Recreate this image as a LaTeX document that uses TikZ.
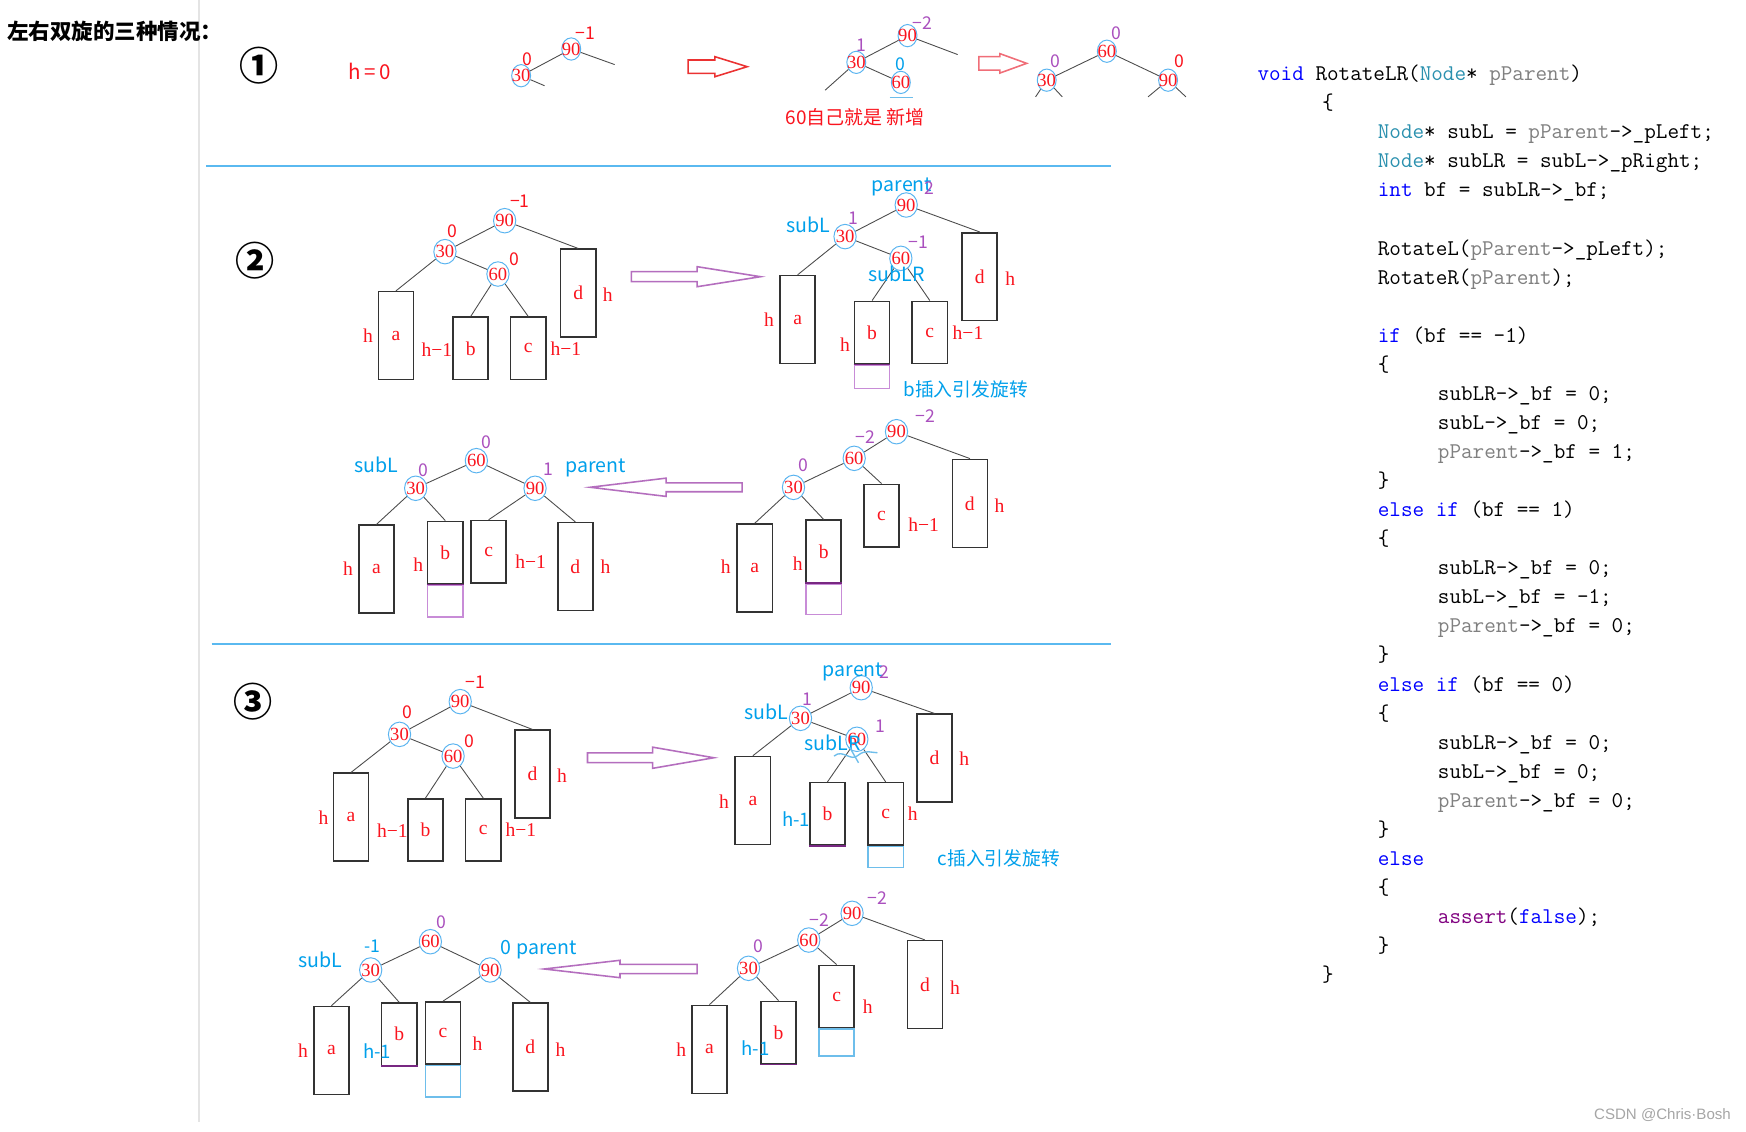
\documentclass[tikz,border=0pt]{standalone}
\usepackage{fontspec}
\setmainfont{Liberation Serif}
\newfontfamily\cjk{Noto Sans CJK SC}
\newfontfamily\wmfont{Liberation Sans}
\usetikzlibrary{shapes.geometric}
\definecolor{valred}{RGB}{250,20,30}
\definecolor{ringblue}{RGB}{90,180,240}
\definecolor{bfpurple}{RGB}{170,80,190}
\definecolor{labcyan}{RGB}{0,160,235}
\definecolor{arrpurple}{RGB}{180,110,190}
\definecolor{arrred}{RGB}{235,50,50}
\definecolor{arrpink}{RGB}{240,110,120}
\definecolor{seplight}{RGB}{90,185,240}
\definecolor{vgray}{RGB}{228,228,228}
\definecolor{inspurple}{RGB}{200,140,215}
\definecolor{insdark}{RGB}{120,40,130}
\definecolor{inscyan}{RGB}{110,190,235}
\definecolor{kwblue}{RGB}{0,0,255}
\definecolor{tyteal}{RGB}{43,145,175}
\definecolor{pagray}{RGB}{128,128,128}
\definecolor{aspurple}{RGB}{128,0,128}
\newcommand{\ckw}[1]{\textcolor{kwblue}{#1}}
\newcommand{\cty}[1]{\textcolor{tyteal}{#1}}
\newcommand{\cpa}[1]{\textcolor{pagray}{#1}}
\newcommand{\cas}[1]{\textcolor{aspurple}{#1}}

\begin{document}
\begin{tikzpicture}[x=0.02cm, y=-0.02cm,
    val/.style={ellipse, draw=ringblue, line width=0.5pt, inner sep=-4pt, minimum width=0.40cm, minimum height=0.44cm, text=valred, font=\fontsize{9.5}{9.5}\selectfont},
    valone/.style={val, minimum width=0.34cm, minimum height=0.40cm},
    edge/.style={draw=black!70, line width=0.45pt},
    tallbox/.style={rectangle, draw=black!80, line width=0.8pt, inner sep=0pt, minimum width=0.632cm, minimum height=1.58cm, text=valred, font=\fontsize{10}{10}\selectfont},
    shortbox/.style={tallbox, minimum height=1.12cm},
    newbox/.style={rectangle, line width=0.75pt, inner sep=0pt, minimum width=0.632cm, anchor=north},
    ht/.style={text=valred, inner sep=0pt, font=\fontsize{10}{10}\selectfont},
    htb/.style={text=labcyan, inner sep=0pt, font=\cjk\fontsize{9.5}{9.5}\selectfont},
    bfr/.style={text=valred, inner sep=0pt, font=\cjk\fontsize{9}{9}\selectfont},
    bfp/.style={bfr, text=bfpurple},
    bfc/.style={bfr, text=labcyan},
    tag/.style={text=labcyan, inner sep=0pt, font=\cjk\fontsize{10}{10}\selectfont},
    num/.style={inner sep=0pt, font=\cjk\bfseries\fontsize{20}{20}\selectfont},
    code/.style={anchor=base west, inner sep=0pt, font=\ttfamily\fontsize{11.5}{13}\selectfont},
    blockarr/.style={line width=0.8pt, fill=white},
    sep/.style={draw=seplight, line width=1pt}
  ]
  % page
  \fill[white] (0,0) rectangle (1568,1016);
  \useasboundingbox (0,0) rectangle (1568,1016);
  \draw[vgray, line width=1.1pt] (178.5,0) -- (178.5,1008);
  \node[anchor=west, inner sep=0pt, font=\cjk\bfseries\fontsize{11}{11}\selectfont] (title) at (6,28) {左右双旋的三种情况：};

  % ---------- case 1 ----------
  \node[num] (no1) at (233,59) {①};
  \node[text=valred, inner sep=0pt, font=\cjk\fontsize{10.5}{10.5}\selectfont] (hzero) at (332,64) {h\,=\,0};
  % before
  \node[valone] (p1a-90) at (513,44) {90};
  \node[valone] (p1a-30) at (468,68) {30};
  \node[bfr] (p1a-f90) at (526,30) {−1};
  \node[bfr] (p1a-f30) at (474,53) {0};
  \coordinate (p1a-r) at (552,58);
  \coordinate (p1a-l) at (489,77);
  \draw[edge] (p1a-90) -- (p1a-30) (p1a-90) -- (p1a-r) (p1a-30) -- (p1a-l);
  \draw[blockarr, draw=arrred] (618,53.9) -- (642,53.9) -- (642,50.9) -- (671,59.9) -- (642,68.9) -- (642,65.9) -- (618,65.9) -- cycle;
  % inserted
  \node[valone] (p1b-90) at (815,32) {90};
  \node[valone] (p1b-30) at (769,56) {30};
  \node[valone] (p1b-60) at (809,74) {60};
  \node[bfp] (p1b-f90) at (828,21) {−2};
  \node[bfp] (p1b-f30) at (774,41) {1};
  \node[bfc] (p1b-f60) at (809,58) {0};
  \coordinate (p1b-r) at (860,49);
  \coordinate (p1b-l) at (741,81);
  \draw[edge] (p1b-90) -- (p1b-30) (p1b-90) -- (p1b-r) (p1b-30) -- (p1b-l) (p1b-30) -- (p1b-60);
  \draw[inscyan, line width=0.8pt] (799,87.5) -- (820,87.5);
  \node[text=valred, inner sep=0pt, font=\cjk\fontsize{9.7}{9.7}\selectfont] (p1b-note) at (768,105) {60自己就是 新增};
  \draw[blockarr, draw=arrpink] (879,50.9) -- (898,50.9) -- (898,48.2) -- (922,56.9) -- (898,65.6) -- (898,62.9) -- (879,62.9) -- cycle;
  % after
  \node[valone] (p1c-60) at (994,46) {60};
  \node[valone] (p1c-30) at (940,72) {30};
  \node[valone] (p1c-90) at (1049,72) {90};
  \node[bfp] (p1c-f60) at (1003,30) {0};
  \node[bfp] (p1c-f30) at (948,55) {0};
  \node[bfr] (p1c-f90) at (1059,55) {0};
  \coordinate (p1c-l1) at (930,87);
  \coordinate (p1c-l2) at (954,87);
  \coordinate (p1c-l3) at (1031,87);
  \coordinate (p1c-l4) at (1065,87);
  \draw[edge] (p1c-60) -- (p1c-30) (p1c-60) -- (p1c-90) (p1c-30) -- (p1c-l1) (p1c-30) -- (p1c-l2) (p1c-90) -- (p1c-l3) (p1c-90) -- (p1c-l4);
  \draw[sep] (185,149) -- (998,149);

  % ---------- case 2 ----------
  \node[num] (no2) at (229,234) {②};
  % before
  \node[val] (p2a-90) at (453.2,198.2) {90};
  \node[val] (p2a-30) at (399.6,226) {30};
  \node[val] (p2a-60) at (447.2,246.1) {60};
  \node[tallbox] (p2a-a) at (355.6,301.4) {a};
  \node[shortbox] (p2a-b) at (422.7,312.9) {b};
  \node[shortbox] (p2a-c) at (474.4,312.9) {c};
  \node[tallbox] (p2a-d) at (519.2,263.3) {d};
  \node[bfr] (p2a-f90) at (466.8,181.1) {−1};
  \node[bfr] (p2a-f30) at (405.9,208) {0};
  \node[bfr] (p2a-f60) at (462,232.9) {0};
  \node[ht] (p2a-ha) at (330.5,301.5) {h};
  \node[ht] (p2a-hb) at (392.4,314.3) {h−1};
  \node[ht] (p2a-hc) at (508.2,313.4) {h−1};
  \node[ht] (p2a-hd) at (545.7,265) {h};
  \draw[edge] (p2a-90) -- (p2a-30) (p2a-90) -- (p2a-d.north) (p2a-30) -- (p2a-a.north)
    (p2a-30) -- (p2a-60) (p2a-60) -- (p2a-b.north) (p2a-60) -- (p2a-c.north);
  \draw[blockarr, draw=arrpurple] (567,244) -- (626,244) -- (626,239.5) -- (683,248.5) -- (626,257.5) -- (626,253) -- (567,253) -- cycle;
  % b inserted
  \node[val] (p2b-90) at (813.8,184.1) {90};
  \node[val] (p2b-30) at (758.9,212.5) {30};
  \node[val] (p2b-60) at (809,232) {60};
  \node[tallbox] (p2b-a) at (716.3,287) {a};
  \node[shortbox] (p2b-b) at (783.2,298.6) {b};
  \node[shortbox] (p2b-c) at (835,298.6) {c};
  \node[tallbox] (p2b-d) at (879.8,248.5) {d};
  \node[newbox, draw=inspurple, minimum height=0.42cm] (p2b-new) at (p2b-b.south) {};
  \draw[insdark, line width=0.9pt] (p2b-b.south west) -- (p2b-b.south east);
  \draw[edge] (p2b-90) -- (p2b-30) (p2b-90) -- (p2b-d.north) (p2b-30) -- (p2b-a.north)
    (p2b-30) -- (p2b-60) (p2b-60) -- (p2b-b.north) (p2b-60) -- (p2b-c.north);
  \node[tag] (p2b-par) at (810,167.6) {parent};
  \node[bfp] (p2b-f90) at (834.3,169.1) {2};
  \node[tag] (p2b-sl) at (725.7,202) {subL};
  \node[bfp] (p2b-f30) at (766.2,196.1) {1};
  \node[bfp] (p2b-f60) at (824.6,217.9) {−1};
  \node[tag] (p2b-slr) at (805.1,245.5) {subLR};
  \node[ht] (p2b-ha) at (690.7,286.8) {h};
  \node[ht] (p2b-hb) at (758.9,309.8) {h};
  \node[ht] (p2b-hc) at (869.3,298.5) {h−1};
  \node[ht] (p2b-hd) at (907.3,250) {h};
  \node[tag, font=\cjk\fontsize{9.6}{9.6}\selectfont] (p2b-note) at (867.2,349.6) {b插入引发旋转};
  % after left rotation
  \node[val] (p2c-90) at (805.1,387.7) {90};
  \node[val] (p2c-60) at (767.1,411.6) {60};
  \node[val] (p2c-30) at (712.6,437.7) {30};
  \node[tallbox] (p2c-a) at (677.8,510.1) {a};
  \node[shortbox] (p2c-b) at (739.7,495.2) {b};
  \node[shortbox] (p2c-c) at (791.7,463) {c};
  \node[tallbox] (p2c-d) at (871,452) {d};
  \node[newbox, draw=inspurple, minimum height=0.55cm] (p2c-new) at (p2c-b.south) {};
  \draw[insdark, line width=0.9pt] (p2c-b.south west) -- (p2c-b.south east);
  \draw[edge] (p2c-90) -- (p2c-60) (p2c-90) -- (p2c-d.north) (p2c-60) -- (p2c-30)
    (p2c-60) -- (p2c-c.north) (p2c-30) -- (p2c-a.north) (p2c-30) -- (p2c-b.north);
  \node[bfp] (p2c-f90) at (830.9,373.6) {−2};
  \node[bfp] (p2c-f60) at (777.4,392.7) {−2};
  \node[bfp] (p2c-f30) at (721.4,417.6) {0};
  \node[ht] (p2c-ha) at (651.7,508.9) {h};
  \node[ht] (p2c-hb) at (716.5,505.9) {h};
  \node[ht] (p2c-hc) at (829.5,471.5) {h−1};
  \node[ht] (p2c-hd) at (897.6,454.4) {h};
  \draw[blockarr, draw=arrpurple] (666.4,433.6) -- (598.2,433.6) -- (598.2,429.4) -- (530,437.6) -- (598.2,445.8) -- (598.2,441.6) -- (666.4,441.6) -- cycle;
  % after right rotation
  \node[val] (p2d-60) at (427.8,413.7) {60};
  \node[val] (p2d-30) at (373.3,438.5) {30};
  \node[val] (p2d-90) at (480.5,438.5) {90};
  \node[tallbox] (p2d-a) at (338,511.2) {a};
  \node[shortbox] (p2d-b) at (399.9,496.2) {b};
  \node[shortbox] (p2d-c) at (438.8,495.5) {c};
  \node[tallbox] (p2d-d) at (516.7,508.9) {d};
  \node[newbox, draw=inspurple, minimum height=0.57cm] (p2d-new) at (p2d-b.south) {};
  \draw[insdark, line width=0.9pt] (p2d-b.south west) -- (p2d-b.south east);
  \draw[edge] (p2d-60) -- (p2d-30) (p2d-60) -- (p2d-90) (p2d-30) -- (p2d-a.north)
    (p2d-30) -- (p2d-b.north) (p2d-90) -- (p2d-c.north) (p2d-90) -- (p2d-d.north);
  \node[bfp] (p2d-f60) at (436.6,396.7) {0};
  \node[bfp] (p2d-f30) at (380.1,422.1) {0};
  \node[bfp] (p2d-f90) at (492.2,421.5) {1};
  \node[tag] (p2d-sl) at (337.9,417.6) {subL};
  \node[tag] (p2d-par) at (535,420.6) {parent};
  \node[ht] (p2d-ha) at (312.5,510.4) {h};
  \node[ht] (p2d-hb) at (375.7,507.4) {h};
  \node[ht] (p2d-hc) at (476.5,504.4) {h−1};
  \node[ht] (p2d-hd) at (543.7,508.9) {h};
  \draw[sep] (190,578.6) -- (998,578.6);

  % ---------- case 3 ----------
  \node[num] (no3) at (227,630) {③};
  % before
  \node[val] (p3a-90) at (413.3,630.1) {90};
  \node[val] (p3a-30) at (358.8,659.5) {30};
  \node[val] (p3a-60) at (406.9,679) {60};
  \node[tallbox] (p3a-a) at (315.2,733.9) {a};
  \node[shortbox] (p3a-b) at (382.1,745.4) {b};
  \node[shortbox] (p3a-c) at (434,745.4) {c};
  \node[tallbox] (p3a-d) at (478.3,695.3) {d};
  \node[bfr] (p3a-f90) at (426.9,613.1) {−1};
  \node[bfr] (p3a-f30) at (365.5,640) {0};
  \node[bfr] (p3a-f60) at (421.5,666) {0};
  \node[ht] (p3a-ha) at (290.6,734.3) {h};
  \node[ht] (p3a-hb) at (352.4,746.3) {h−1};
  \node[ht] (p3a-hc) at (467.8,745.4) {h−1};
  \node[ht] (p3a-hd) at (504.8,696.9) {h};
  \draw[edge] (p3a-90) -- (p3a-30) (p3a-90) -- (p3a-d.north) (p3a-30) -- (p3a-a.north)
    (p3a-30) -- (p3a-60) (p3a-60) -- (p3a-b.north) (p3a-60) -- (p3a-c.north);
  \draw[blockarr, draw=arrpurple] (527.6,676.1) -- (586.1,676.1) -- (586.1,671) -- (641.1,680.5) -- (586.1,690) -- (586.1,684.9) -- (527.6,684.9) -- cycle;
  % c inserted
  \node[val] (p3b-90) at (773.4,617.6) {90};
  \node[val] (p3b-30) at (718.9,645.1) {30};
  \node[val] (p3b-60) at (769.5,663.9) {60};
  \node[tallbox] (p3b-a) at (676.1,718.9) {a};
  \node[shortbox] (p3b-b) at (743.1,730.9) {b};
  \node[shortbox] (p3b-c) at (795.4,730.9) {c};
  \node[tallbox] (p3b-d) at (839.2,680.9) {d};
  \node[newbox, draw=inscyan, minimum height=0.38cm] (p3b-new) at (p3b-c.south) {};
  \draw[insdark, line width=0.9pt] (p3b-b.south west) -- (p3b-b.south east);
  \draw[edge] (p3b-90) -- (p3b-30) (p3b-90) -- (p3b-d.north) (p3b-30) -- (p3b-a.north)
    (p3b-30) -- (p3b-60) (p3b-60) -- (p3b-b.north) (p3b-60) -- (p3b-c.north);
  \node[tag] (p3b-par) at (766.1,603.2) {parent};
  \node[bfp] (p3b-f90) at (793.9,603.2) {2};
  \node[bfp] (p3b-f30) at (724.8,628) {1};
  \node[tag] (p3b-sl) at (688.3,639.1) {subL};
  \node[bfp] (p3b-f60) at (790.5,652.6) {1};
  \node[tag] (p3b-slr) at (748,667.5) {subLR};
  \draw[inscyan, line width=0.7pt] (749,679) .. controls (757,672) and (764,685) .. (771,678) .. controls (777,673) and (783,676) .. (788,676);
  \draw[inscyan, line width=0.7pt] (763,671) -- (771,685);
  \node[ht] (p3b-ha) at (650.3,720) {h};
  \node[htb] (p3b-hb) at (715,735.8) {h-1};
  \node[ht] (p3b-hc) at (819.7,731) {h};
  \node[ht] (p3b-hd) at (865.9,681.6) {h};
  \node[tag, font=\cjk\fontsize{9.6}{9.6}\selectfont] (p3b-note) at (897,770.9) {c插入引发旋转};
  % after left rotation
  \node[val] (p3c-90) at (765.2,820.2) {90};
  \node[val] (p3c-60) at (726.3,844.2) {60};
  \node[val] (p3c-30) at (672.2,869.6) {30};
  \node[tallbox] (p3c-a) at (637.1,942.4) {a};
  \node[shortbox] (p3c-b) at (699.2,927.3) {b};
  \node[shortbox] (p3c-c) at (751.3,894.9) {c};
  \node[tallbox] (p3c-d) at (830.6,884.3) {d};
  \node[newbox, draw=inscyan, minimum height=0.48cm] (p3c-new) at (p3c-c.south) {};
  \draw[insdark, line width=0.9pt] (p3c-b.south west) -- (p3c-b.south east);
  \draw[edge] (p3c-90) -- (p3c-60) (p3c-90) -- (p3c-d.north) (p3c-60) -- (p3c-30)
    (p3c-60) -- (p3c-c.north) (p3c-30) -- (p3c-a.north) (p3c-30) -- (p3c-b.north);
  \node[bfp] (p3c-f90) at (788.1,806.8) {−2};
  \node[bfp] (p3c-f60) at (736,826.2) {−2};
  \node[bfp] (p3c-f30) at (681,850.2) {0};
  \node[ht] (p3c-ha) at (611.9,942.4) {h};
  \node[htb] (p3c-hb) at (678.6,941.5) {h-1};
  \node[ht] (p3c-hc) at (779.2,904.1) {h};
  \node[ht] (p3c-hd) at (857.7,886.7) {h};
  \draw[blockarr, draw=arrpurple] (626,866) -- (556.8,866) -- (556.8,862.4) -- (488.7,870.2) -- (556.8,878) -- (556.8,874.4) -- (626,874.4) -- cycle;
  % after right rotation
  \node[val] (p3d-60) at (386.5,845.7) {60};
  \node[val] (p3d-30) at (332.9,871.1) {30};
  \node[val] (p3d-90) at (440.1,871.1) {90};
  \node[tallbox] (p3d-a) at (297.6,943.4) {a};
  \node[shortbox] (p3d-b) at (358.5,928.8) {b};
  \node[shortbox] (p3d-c) at (397.9,927.7) {c};
  \node[tallbox] (p3d-d) at (476.3,940.4) {d};
  \node[newbox, draw=inscyan, minimum height=0.56cm] (p3d-new) at (p3d-c.south) {};
  \draw[insdark, line width=0.9pt] (p3d-b.south west) -- (p3d-b.south east);
  \draw[edge] (p3d-60) -- (p3d-30) (p3d-60) -- (p3d-90) (p3d-30) -- (p3d-a.north)
    (p3d-30) -- (p3d-b.north) (p3d-90) -- (p3d-c.north) (p3d-90) -- (p3d-d.north);
  \node[bfp] (p3d-f60) at (396.2,828.6) {0};
  \node[bfc] (p3d-f30) at (334.4,849.6) {-1};
  \node[tag] (p3d-sl) at (287.6,862.1) {subL};
  \node[tag] (p3d-par) at (483.8,853.2) {0 parent};
  \node[ht] (p3d-ha) at (272.1,943.6) {h};
  \node[htb] (p3d-hb) at (338.8,943.6) {h-1};
  \node[ht] (p3d-hc) at (428.8,937.6) {h};
  \node[ht] (p3d-hd) at (503.3,942.4) {h};

  % ---------- code ----------
  \node[code] (l00) at (1129,72.5) {\ckw{void} RotateLR(\cty{Node}* \cpa{pParent})};
  \node[code] (l01) at (1187,98.6) {\{};
  \node[code] (l02) at (1237,124.7) {\cty{Node}* subL = \cpa{pParent}->\_pLeft;};
  \node[code] (l03) at (1237,150.8) {\cty{Node}* subLR = subL->\_pRight;};
  \node[code] (l04) at (1237,176.9) {\ckw{int} bf = subLR->\_bf;};
  \node[code] (l06) at (1237,229.1) {RotateL(\cpa{pParent}->\_pLeft);};
  \node[code] (l07) at (1237,255.2) {RotateR(\cpa{pParent});};
  \node[code] (l09) at (1237,307.4) {\ckw{if} (bf == -1)};
  \node[code] (l10) at (1237,333.5) {\{};
  \node[code] (l11) at (1291,359.6) {subLR->\_bf = 0;};
  \node[code] (l12) at (1291,385.7) {subL->\_bf = 0;};
  \node[code] (l13) at (1291,411.8) {\cpa{pParent}->\_bf = 1;};
  \node[code] (l14) at (1237,437.9) {\}};
  \node[code] (l15) at (1237,464) {\ckw{else if} (bf == 1)};
  \node[code] (l16) at (1237,490.1) {\{};
  \node[code] (l17) at (1291,516.2) {subLR->\_bf = 0;};
  \node[code] (l18) at (1291,542.3) {subL->\_bf = -1;};
  \node[code] (l19) at (1291,568.4) {\cpa{pParent}->\_bf = 0;};
  \node[code] (l20) at (1237,594.5) {\}};
  \node[code] (l21) at (1237,620.6) {\ckw{else if} (bf == 0)};
  \node[code] (l22) at (1237,646.7) {\{};
  \node[code] (l23) at (1291,672.8) {subLR->\_bf = 0;};
  \node[code] (l24) at (1291,698.9) {subL->\_bf = 0;};
  \node[code] (l25) at (1291,725) {\cpa{pParent}->\_bf = 0;};
  \node[code] (l26) at (1237,751.1) {\}};
  \node[code] (l27) at (1237,777.2) {\ckw{else}};
  \node[code] (l28) at (1237,803.3) {\{};
  \node[code] (l29) at (1291,829.4) {\cas{assert}(\ckw{false});};
  \node[code] (l30) at (1237,855.5) {\}};
  \node[code] (l31) at (1187,881.6) {\}};

  % watermark
  \node[text=black!35, inner sep=0pt, font=\wmfont\fontsize{7.7}{7.7}\selectfont] (mark) at (1493,1001) {CSDN @Chris·Bosh};
\end{tikzpicture}
\end{document}
